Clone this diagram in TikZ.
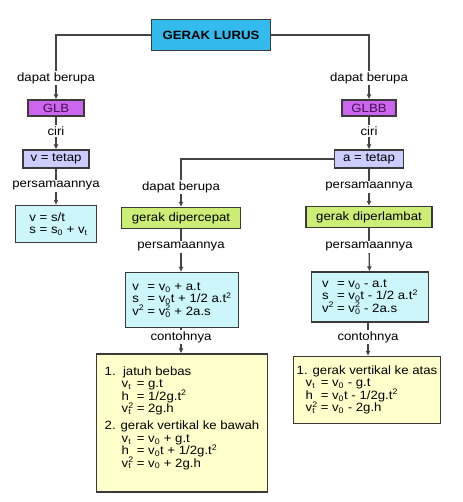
\documentclass[tikz,border=0pt]{standalone}
\usepackage{fontspec}
\setmainfont{Liberation Sans}[FakeStretch=1.1]
\usetikzlibrary{arrows.meta}
\definecolor{topblue}{HTML}{33BBEE}
\definecolor{kindpurple}{HTML}{CC66EE}
\definecolor{kindtext}{HTML}{44104F}
\definecolor{proplav}{HTML}{CCCCFF}
\definecolor{motiongreen}{HTML}{CCEE77}
\definecolor{eqcyan}{HTML}{CCF6FA}
\definecolor{exyellow}{HTML}{FFFFCC}
\definecolor{boxline}{HTML}{3A3A3A}
\definecolor{linegrey}{HTML}{444444}
\newcommand{\lo}[1]{\textsubscript{#1}}
\newcommand{\hi}[1]{\textsuperscript{#1}}
\newcommand{\lohi}[2]{\rlap{\textsubscript{#1}}\textsuperscript{#2}}
\newcommand{\lhs}[1]{\makebox[0.95em][l]{#1}}
\newcommand{\ind}{\hspace*{17pt}}
\newcommand{\tightlines}{\lineskiplimit=-20pt\relax}
\newcommand{\boxfont}{\fontsize{12}{12.4}\selectfont\tightlines}

\begin{document}
\begin{tikzpicture}[x=1pt,y=-1pt,
  every node/.style={font=\boxfont},
  box/.style={draw=boxline,line width=1.2pt,inner sep=0pt},
  kindbox/.style={box,fill=kindpurple,text=kindtext,minimum height=16pt},
  propbox/.style={box,fill=proplav,minimum height=18pt},
  motionbox/.style={box,fill=motiongreen,minimum height=21pt},
  eqbox/.style={box,fill=eqcyan,align=left},
  exbox/.style={box,fill=exyellow,align=left},
  lbl/.style={inner sep=1.5pt},
  link/.style={draw=linegrey,line width=1.3pt},
  arr/.style={link,-{Latex[length=5pt,width=5pt]}}]
  \useasboundingbox (0,0) rectangle (462,502);

  \node[box,fill=topblue,minimum width=119pt,minimum height=31pt,
        font=\fontsize{12}{14}\selectfont\bfseries] (gerak) at (211,35) {GERAK LURUS};

  % GLB branch
  \node[lbl] (dapatL) at (56,78)  {dapat berupa};
  \node[kindbox,minimum width=56pt] (glb) at (56,108) {GLB};
  \node[lbl] (ciriL)  at (56,131) {ciri};
  \node[propbox,minimum width=66pt] (vtetap) at (56,159) {v = tetap};
  \node[lbl] (persL)  at (56,186) {persamaannya};
  \node[eqbox,minimum width=81pt,minimum height=37pt] (eqL) at (56,224)
    {\hspace*{5pt}v = s/t\\ \hspace*{5pt}s = s\lo{0} + v\lo{t}};

  % GLBB branch
  \node[lbl] (dapatR) at (369,78)  {dapat berupa};
  \node[kindbox,minimum width=54pt] (glbb) at (369,108) {GLBB};
  \node[lbl] (ciriR)  at (369,131) {ciri};
  \node[propbox,minimum width=69pt] (atetap) at (369,159) {a = tetap};

  % dipercepat
  \node[lbl] (dapatM) at (181,187) {dapat berupa};
  \node[motionbox,minimum width=119pt] (cepat) at (181,218) {gerak dipercepat};
  \node[lbl] (persM1) at (181,247) {persamaannya};
  \node[eqbox,minimum width=113pt,minimum height=55pt] (eqM) at (182,300)
    {\lhs{v} = v\lo{0} + a.t\\
     \lhs{s} = v\lo{0}t + 1/2 a.t\hi{2}\\
     \lhs{v\hi{2}} = v\lohi{0}{2} + 2a.s};
  \node[lbl] (contohM) at (181,337) {contohnya};
  \node[exbox,minimum width=171pt,minimum height=138pt] (exM) at (182,423)
    {1.\ \ jatuh bebas\\
     \ind\lhs{v\lo{t}} = g.t\\
     \ind\lhs{h} = 1/2g.t\hi{2}\\
     \ind\lhs{v\lohi{t}{2}} = 2g.h\\[5pt]
     2. gerak vertikal ke bawah\\
     \ind\lhs{v\lo{t}} = v\lo{0} + g.t\\
     \ind\lhs{h} = v\lo{0}t + 1/2g.t\hi{2}\\
     \ind\lhs{v\lohi{t}{2}} = v\lo{0} + 2g.h\\[0pt]\mbox{}};

  % diperlambat
  \node[lbl] (persR1) at (369,187) {persamaannya};
  \node[motionbox,minimum width=126pt] (lambat) at (369,217) {gerak diperlambat};
  \node[lbl] (persR2) at (369,247) {persamaannya};
  \node[eqbox,minimum width=117pt,minimum height=50pt] (eqR) at (370,297)
    {\lhs{v} = v\lo{0} - a.t\\
     \lhs{s} = v\lo{0}t - 1/2 a.t\hi{2}\\
     \lhs{v\hi{2}} = v\lohi{0}{2} - 2a.s};
  \node[lbl] (contohR) at (368,337) {contohnya};
  \node[exbox,minimum width=147pt,minimum height=67pt] (exR) at (367,390)
    {1. gerak vertikal ke atas\\
     \hspace*{9pt}\lhs{v\lo{t}} = v\lo{0} - g.t\\
     \hspace*{9pt}\lhs{h} = v\lo{0}t - 1/2g.t\hi{2}\\
     \hspace*{9pt}\lhs{v\lohi{t}{2}} = v\lo{0} - 2g.h};

  % connectors
  \draw[link] (gerak.west) -| (dapatL);
  \draw[arr]  (dapatL) -- (glb);
  \draw[link] (glb) -- (ciriL);
  \draw[arr]  (ciriL) -- (vtetap);
  \draw[link] (vtetap) -- (persL);
  \draw[arr]  (persL) -- (eqL);

  \draw[link] (gerak.east) -| (dapatR);
  \draw[arr]  (dapatR) -- (glbb);
  \draw[link] (glbb) -- (ciriR);
  \draw[arr]  (ciriR) -- (atetap);

  \draw[link] (atetap.west) -| (dapatM);
  \draw[arr]  (dapatM) -- (cepat);
  \draw[link] (cepat) -- (persM1);
  \draw[arr]  (persM1) -- (persM1 |- eqM.north);
  \draw[link] (eqM.south -| contohM) -- (contohM);
  \draw[arr]  (contohM) -- (contohM |- exM.north);

  \draw[link] (atetap) -- (persR1);
  \draw[arr]  (persR1) -- (lambat);
  \draw[link] (lambat) -- (persR2);
  \draw[arr]  (persR2) -- (eqR);
  \draw[link] (eqR.south -| contohR) -- (contohR);
  \draw[arr]  (contohR) -- (contohR |- exR.north);
\end{tikzpicture}
\end{document}
